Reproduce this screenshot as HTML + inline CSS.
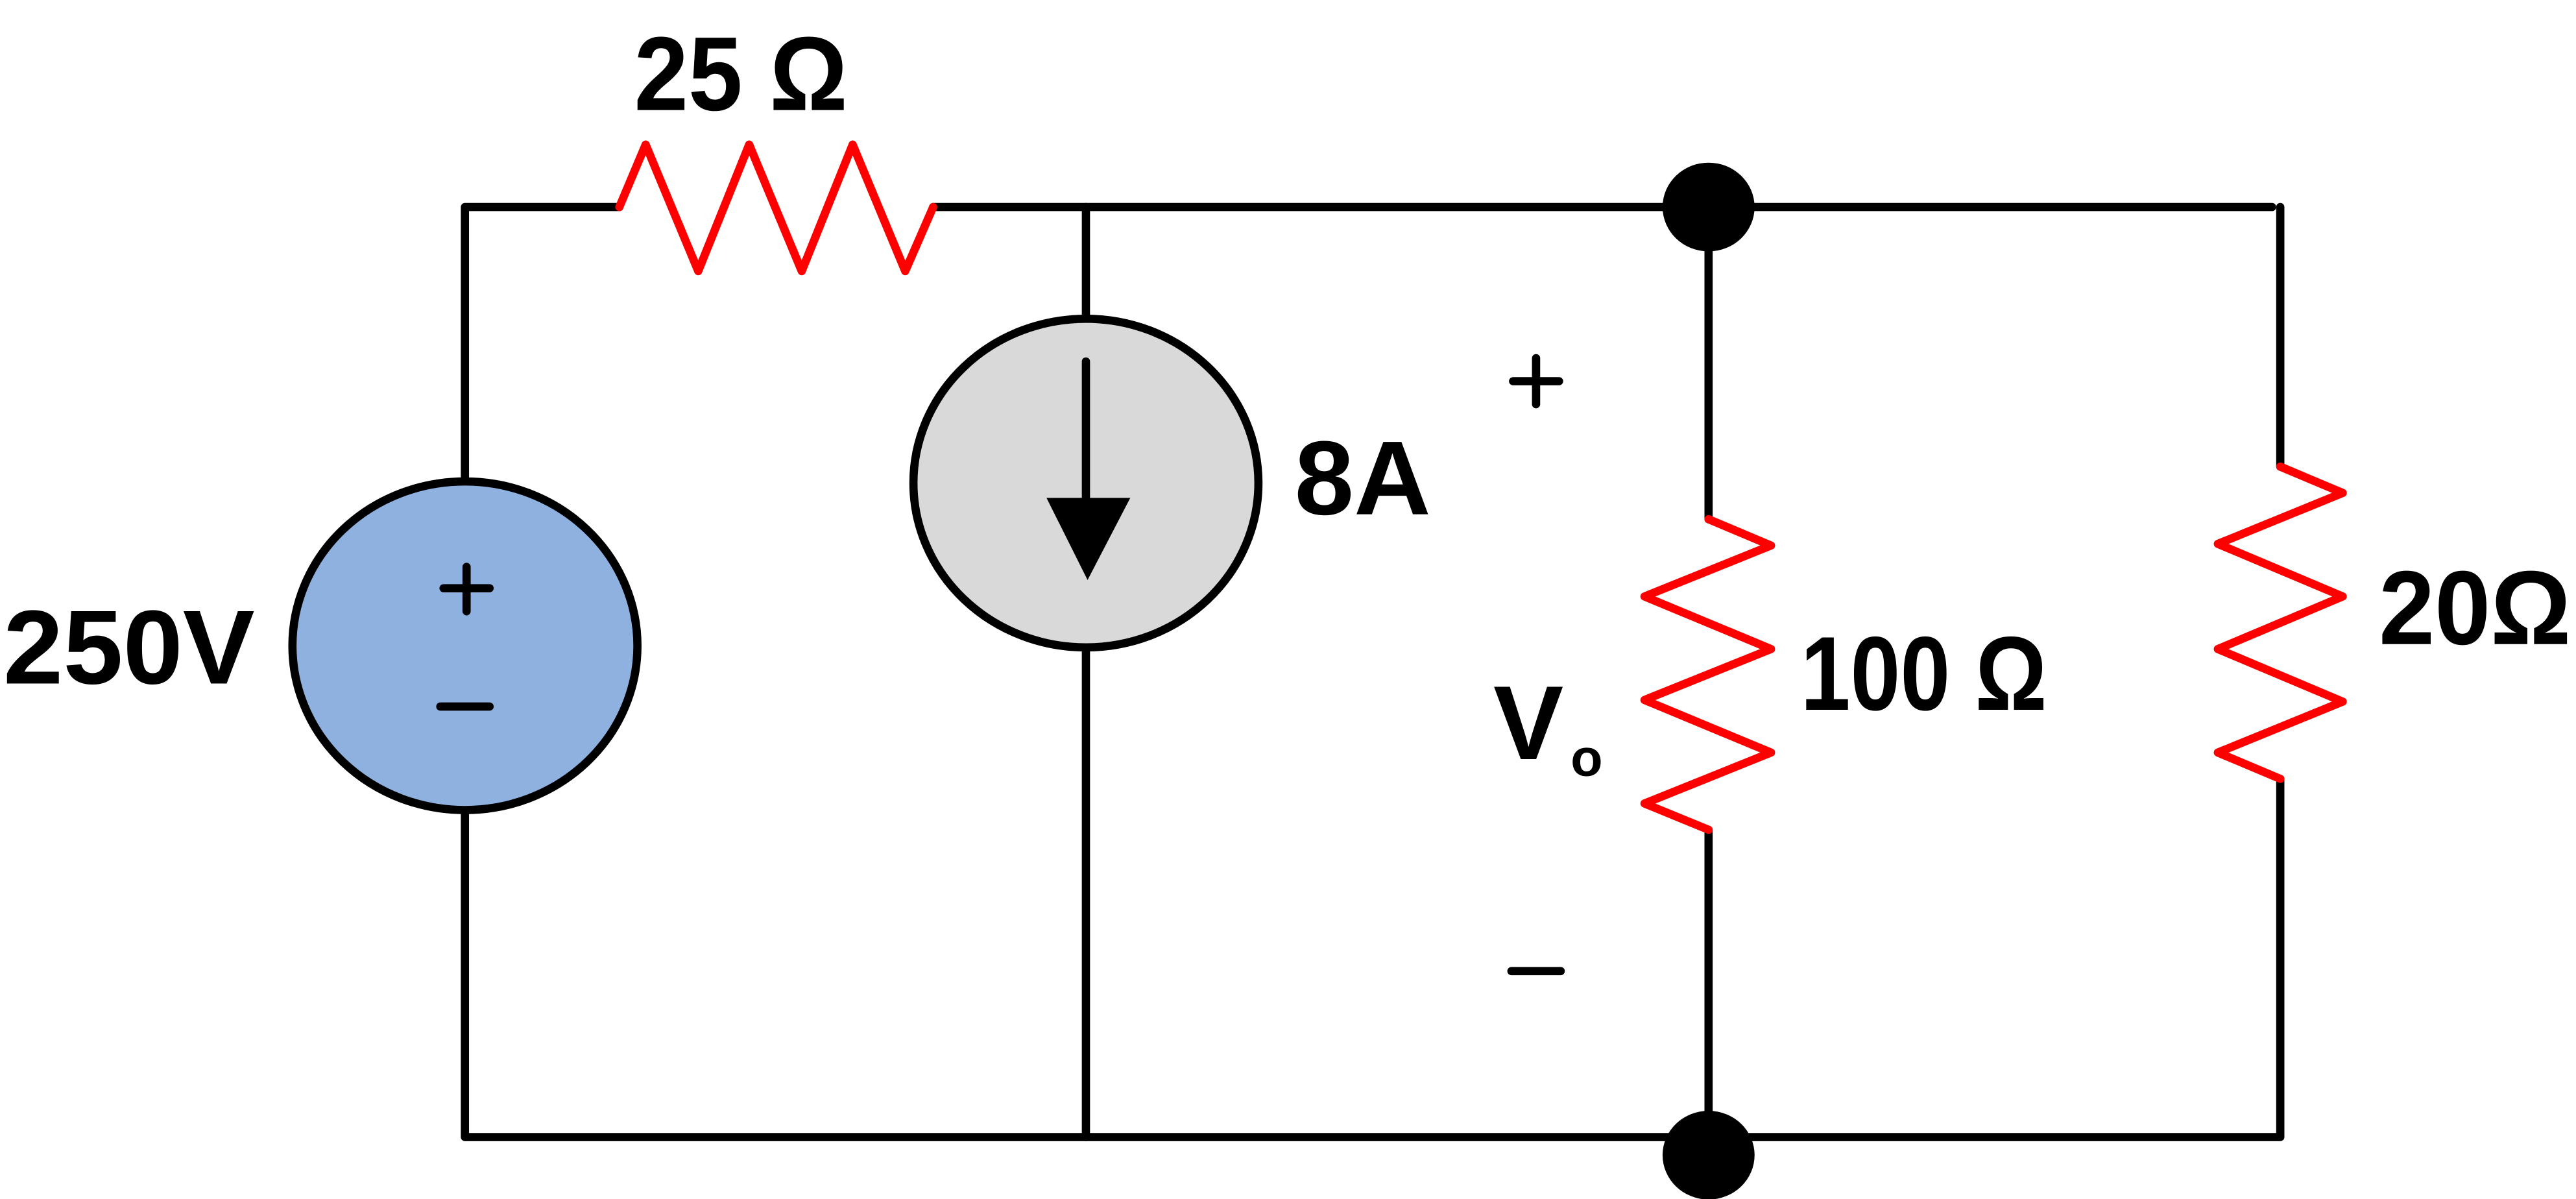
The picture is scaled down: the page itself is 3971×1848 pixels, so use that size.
<!DOCTYPE html>
<html><head><meta charset="utf-8"><style>html,body{margin:0;padding:0;background:#fff}svg{display:block}</style></head>
<body>
<svg width="3971" height="1848" viewBox="0 0 1568 729.7" preserveAspectRatio="none" xmlns="http://www.w3.org/2000/svg" font-family="Liberation Sans, sans-serif" font-weight="bold">
<g fill="none" stroke="#000" stroke-width="5" stroke-linecap="round" stroke-linejoin="round">
<polyline points="283,292 283,126 377,126"/>
<line x1="568" y1="126" x2="1383" y2="126"/>
<polyline points="1388,126 1388,284"/>
<polyline points="1388,474 1388,692 283,692 283,494"/>
<line x1="661" y1="126" x2="661" y2="192"/>
<line x1="661" y1="396" x2="661" y2="692"/>
<line x1="1040" y1="126" x2="1040" y2="316"/>
<line x1="1040" y1="505" x2="1040" y2="692"/>
</g>
<g fill="none" stroke="#f00" stroke-width="5" stroke-linejoin="round" stroke-linecap="round">
<polyline points="377,126 393,88 425,165 456,88 488,165 519,88 551,165 568,126"/>
<polyline points="1388,284 1426,300 1350,331 1426,363 1350,395 1426,427 1350,458 1388,474"/>
<polyline points="1040,316 1078,332 1001,363 1078,395 1001,426 1078,458 1001,489 1040,505"/>
</g>
<ellipse cx="283" cy="393" rx="105" ry="100" fill="#8eb1e0" stroke="#000" stroke-width="5"/>
<ellipse cx="661" cy="294" rx="105" ry="100" fill="#d9d9d9" stroke="#000" stroke-width="5"/>
<line x1="661" y1="220" x2="661" y2="310" stroke="#000" stroke-width="5" stroke-linecap="round"/>
<polygon points="637,303 688,303 662,353" fill="#000"/>
<ellipse cx="1040" cy="126" rx="28" ry="27" fill="#000"/>
<ellipse cx="1040" cy="703" rx="28" ry="27" fill="#000"/>
<g font-size="64" fill="#000">
<text x="386" y="67" textLength="130" lengthAdjust="spacingAndGlyphs">25 Ω</text>
<text x="2" y="416" textLength="153" lengthAdjust="spacingAndGlyphs">250V</text>
<text x="788" y="313" textLength="83" lengthAdjust="spacingAndGlyphs">8A</text>
<text x="1096" y="432" textLength="150" lengthAdjust="spacingAndGlyphs">100 Ω</text>
<text x="1448" y="392" textLength="117" lengthAdjust="spacingAndGlyphs">20Ω</text>
<text x="909" y="462">V</text>
<text x="956" y="472" font-size="32">o</text>
</g>
<g stroke="#000" stroke-width="5" stroke-linecap="round">
<line x1="268" y1="430" x2="298" y2="430"/>
<line x1="920" y1="591" x2="950" y2="591"/>
<line x1="921" y1="232" x2="949" y2="232"/>
<line x1="935" y1="218" x2="935" y2="246"/>
<line x1="270" y1="358" x2="298" y2="358"/>
<line x1="284" y1="345" x2="284" y2="372"/>
</g>
</svg>
</body></html>
